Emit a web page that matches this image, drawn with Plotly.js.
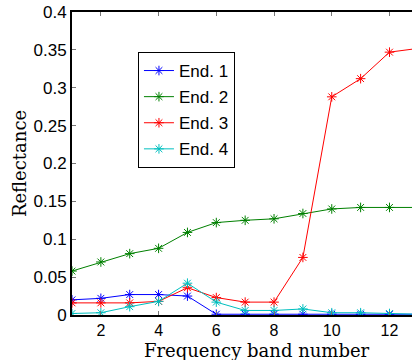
<!DOCTYPE html>
<html>
<head>
<meta charset="utf-8">
<script src="https://cdn.plot.ly/plotly-3.0.1.min.js"></script>
<style>html,body{margin:0;padding:0;background:#fff;}#chart{width:412px;height:360px;}</style>
</head>
<body>
<div id="chart"></div>
<script>
const bands = [1,2,3,4,5,6,7,8,9,10,11,12,13];
const end1 = [0.020,0.022,0.027,0.027,0.025,0.001,0.001,0.001,0.001,0.001,0.001,0.001,0.001];
const end2 = [0.058,0.070,0.081,0.088,0.109,0.122,0.125,0.127,0.134,0.140,0.142,0.142,0.142];
const end3 = [0.016,0.016,0.016,0.018,0.036,0.023,0.017,0.017,0.076,0.288,0.312,0.347,0.352];
const end4 = [0.002,0.003,0.011,0.018,0.042,0.017,0.006,0.006,0.008,0.003,0.003,0.002,0.001];
const names = ["End. 1","End. 2","End. 3","End. 4"];
const colors = ["#0000ff","#008000","#ff0000","#00bfbf"];
const series = [end1,end2,end3,end4];
const xTitle = "Frequency band number";

const traces = series.map((s,i)=>({
  x: bands, y: s, name: names[i], legendgroup: "g"+i,
  type: "scatter", mode: "lines+markers",
  line: {color: colors[i], width: 1},
  marker: {symbol: "asterisk-open", size: 8, color: colors[i], line: {color: colors[i], width: 1}}
}));

const layout = {
  width: 412, height: 360,
  margin: {l: 72, r: 0, t: 12, b: 45},
  paper_bgcolor: "#fff", plot_bgcolor: "#fff",
  showlegend: true,
  legend: {
    x: 0.194, y: 0.868, xanchor: "left", yanchor: "top",
    bordercolor: "#000", borderwidth: 1, bgcolor: "#fff",
    font: {family: "Liberation Sans, Arial, sans-serif", size: 17, color: "#000"},
    tracegroupgap: 1
  },
  annotations: [{
    text: xTitle, xref: "paper", yref: "paper", x: 0.545, y: 0,
    xanchor: "center", yanchor: "bottom", yshift: -47, showarrow: false, borderpad: 0,
    font: {family: "DejaVu Serif, serif", size: 18, color: "#000"}
  }],
  xaxis: {
    range: [1, 12.78], tickvals: [2,4,6,8,10,12],
    showline: true, linecolor: "#000", linewidth: 2, mirror: "ticks",
    ticks: "inside", ticklen: 4, tickcolor: "#777", tickwidth: 1,
    showgrid: false, zeroline: false,
    tickfont: {family: "Liberation Sans, Arial, sans-serif", size: 16, color: "#000"}
  },
  yaxis: {
    range: [0, 0.4], dtick: 0.05, tick0: 0,
    showline: true, linecolor: "#000", linewidth: 2, mirror: false,
    ticks: "inside", ticklen: 4, tickcolor: "#777", tickwidth: 1,
    showgrid: false, zeroline: false,
    tickfont: {family: "Liberation Sans, Arial, sans-serif", size: 17, color: "#000"},
    title: {text: "Reflectance", font: {family: "DejaVu Serif, serif", size: 18, color: "#000"}, standoff: 2}
  }
};
Plotly.newPlot("chart", traces, layout, {displayModeBar: false, staticPlot: true});
</script>
</body>
</html>
